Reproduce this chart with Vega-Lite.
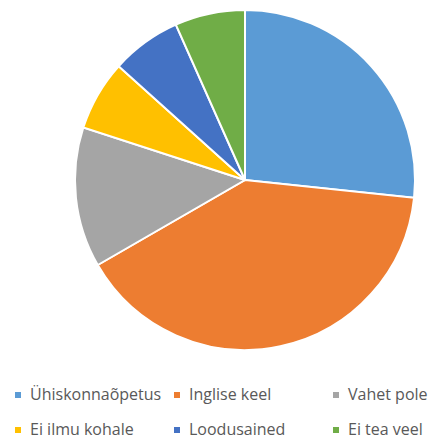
{
  "$schema": "https://vega.github.io/schema/vega-lite/v6.json",
  "width": 340,
  "height": 340,
  "autosize": {"type": "none"},
  "padding": {"left": 75, "top": 10, "right": 22, "bottom": 89},
  "background": "white",
  "data": {
    "values": [
      {"kategooria": "Ühiskonnaõpetus", "arv": 4, "jrk": 1},
      {"kategooria": "Inglise keel", "arv": 6, "jrk": 2},
      {"kategooria": "Vahet pole", "arv": 2, "jrk": 3},
      {"kategooria": "Ei ilmu kohale", "arv": 1, "jrk": 4},
      {"kategooria": "Loodusained", "arv": 1, "jrk": 5},
      {"kategooria": "Ei tea veel", "arv": 1, "jrk": 6}
    ]
  },
  "mark": {"type": "arc", "stroke": "white", "strokeWidth": 2},
  "encoding": {
    "theta": {"field": "arv", "type": "quantitative", "stack": true},
    "order": {"field": "jrk", "type": "quantitative"},
    "color": {
      "field": "kategooria",
      "type": "nominal",
      "sort": ["Ühiskonnaõpetus", "Inglise keel", "Vahet pole", "Ei ilmu kohale", "Loodusained", "Ei tea veel"],
      "scale": {
        "domain": ["Ühiskonnaõpetus", "Inglise keel", "Vahet pole", "Ei ilmu kohale", "Loodusained", "Ei tea veel"],
        "range": ["#5B9BD5", "#ED7D31", "#A5A5A5", "#FFC000", "#4472C4", "#70AD47"]
      },
      "legend": {
        "title": null,
        "orient": "none",
        "legendX": -65,
        "legendY": 377,
        "direction": "horizontal",
        "columns": 3,
        "gridAlign": "all",
        "columnPadding": 7,
        "rowPadding": 19,
        "symbolType": "square",
        "symbolSize": 36,
        "symbolStrokeWidth": 0,
        "symbolOffset": 0,
        "labelFont": "Open Sans",
        "labelFontSize": 16,
        "labelColor": "#595959",
        "labelOffset": 4,
        "labelLimit": 300
      }
    }
  },
  "config": {"view": {"stroke": null}}
}
